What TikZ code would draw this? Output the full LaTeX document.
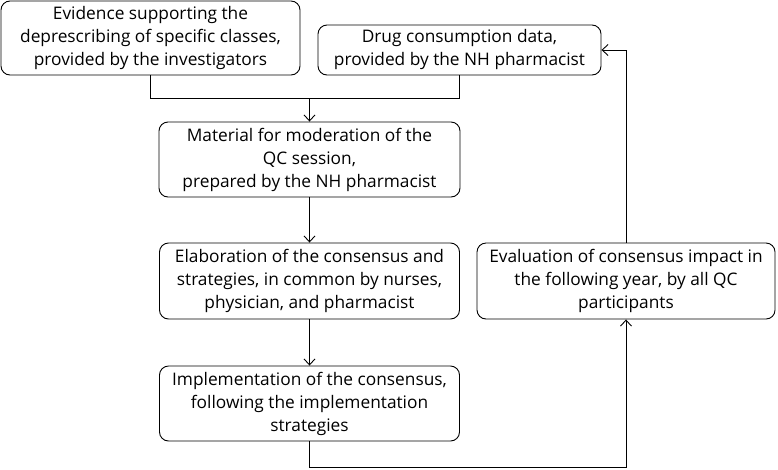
\documentclass[tikz,border=0pt]{standalone}
\usepackage{fontspec}
\setmainfont{Open Sans}
\usetikzlibrary{arrows.meta}
\begin{document}
\begin{tikzpicture}[x=1pt,y=-1pt,
  box/.style={draw, rounded corners=9pt, line width=0.9pt, inner sep=0pt, align=center,
    font=\fontsize{17.3}{23}\selectfont},
  conn/.style={line width=0.9pt},
  arr/.style={conn, -{Straight Barb[length=6pt,width=11pt,line width=0.9pt]}}]
\useasboundingbox (0,0) rectangle (778,469);
\node[box, minimum width=299pt, minimum height=74pt] (b1) at (150.5,38) {Evidence supporting the\\deprescribing of specific classes,\\provided by the investigators};
\node[box, minimum width=283pt, minimum height=50pt] (b2) at (459.5,50) {Drug consumption data,\\provided by the NH pharmacist};
\node[box, minimum width=301pt, minimum height=75pt] (b3) at (309.5,159.5) {Material for moderation of the\\QC session,\\prepared by the NH pharmacist};
\node[box, minimum width=300pt, minimum height=76pt] (b4) at (309.5,281) {Elaboration of the consensus and\\strategies, in common by nurses,\\physician, and pharmacist};
\node[box, minimum width=300pt, minimum height=75pt] (b5) at (309.5,403.5) {Implementation of the consensus,\\following the implementation\\strategies};
\node[box, minimum width=298pt, minimum height=76pt] (b6) at (626,281) {Evaluation of consensus impact in\\the following year, by all QC\\participants};
\coordinate (m) at (309.5,98.5);
\coordinate (bl) at (309.5,467);
\draw[conn] (b1.south) |- (m);
\draw[conn] (b2.south) |- (m);
\draw[arr] (m) -- (b3.north);
\draw[arr] (b3.south) -- (b4.north);
\draw[arr] (b4.south) -- (b5.north);
\draw[arr] (b5.south) -- (bl) -| (b6.south);
\draw[arr] (b6.north) |- (b2.east);
\end{tikzpicture}
\end{document}
